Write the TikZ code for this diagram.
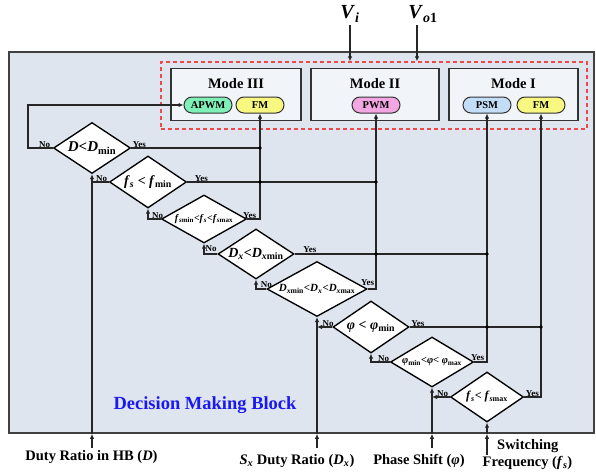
\documentclass[tikz,border=0pt]{standalone}
\usepackage{fontspec}
\setmainfont{Liberation Serif}
\usetikzlibrary{shapes.geometric,arrows.meta}
\definecolor{bgblue}{HTML}{DEE5EE}
\definecolor{modefill}{HTML}{F1F4F8}
\definecolor{apwmc}{HTML}{80F0B8}
\definecolor{fmc}{HTML}{F8F880}
\definecolor{pwmc}{HTML}{F2A6E2}
\definecolor{psmc}{HTML}{C4DDF6}
\definecolor{reddash}{HTML}{EE4848}
\definecolor{dmbblue}{HTML}{1A1AF0}
\newcommand{\sbx}[1]{\textsubscript{#1}}
\newcommand{\fsz}[1]{\fontsize{#1}{#1}\selectfont\bfseries}
\tikzset{
  conn/.style={line width=1.4pt, draw=black!85},
  arr/.style={conn, -{Latex[length=5pt,width=4.5pt]}},
  dia/.style={diamond, draw=black, fill=white, line width=1.35pt, inner sep=0pt},
  yn/.style={font=\fsz{9}, inner sep=0.5pt},
  modebox/.style={draw=black!80, fill=modefill, line width=1.3pt, minimum height=52pt},
  modelab/.style={font=\fsz{14.5}, inner sep=0pt},
  pill/.style={draw=black!80, line width=1pt, rounded corners=8pt, minimum width=48pt, minimum height=16pt, inner sep=0pt, font=\fsz{10.5}},
  inlab/.style={font=\fsz{14.5}, inner sep=0pt, align=center},
}
\begin{document}
\begin{tikzpicture}[x=1pt,y=-1pt]
\useasboundingbox (0,0) rectangle (596,474);
% main block
\node[draw=black!75, fill=bgblue, line width=1.6pt, minimum width=585pt, minimum height=381pt, inner sep=0pt] (block) at (301.5,242.5) {};
\node[draw=reddash, line width=1.3pt, dash pattern=on 4pt off 3pt, minimum width=426pt, minimum height=67pt, inner sep=0pt] (redbox) at (374,95.5) {};
% mode boxes
\node[modebox, minimum width=130pt] (m3) at (236,94.5) {};
\node[modebox, minimum width=128pt] (m2) at (375,94.5) {};
\node[modebox, minimum width=129pt] (m1) at (513.5,94.5) {};
\node[modelab] (m3t) at (236,84) {Mode III};
\node[modelab] (m2t) at (375,84) {Mode II};
\node[modelab] (m1t) at (513.5,84) {Mode I};
\node[pill, fill=apwmc] (apwm) at (208,105) {APWM};
\node[pill, fill=fmc] (fm3) at (260,105) {FM};
\node[pill, fill=pwmc] (pwm) at (376,105) {PWM};
\node[pill, fill=psmc] (psm) at (487,105) {PSM};
\node[pill, fill=fmc] (fm1) at (541,105) {FM};
% inputs on top
\node[inner sep=0pt] (vi) at (350,14) {\fsz{20}\textit{V}\sbx{\textit{i}}};
\node[inner sep=0pt] (vo) at (423,14) {\fsz{20}\textit{V}\sbx{\textit{o}1}};
\coordinate (vit) at (350,25);
\coordinate (vot) at (417,25);
\draw[arr] (vit) -- (vit |- redbox.north);
\draw[arr] (vot) -- (vot |- redbox.north);
% diamonds
\node[dia, minimum width=77pt, minimum height=51pt] (d1) at (92,148) {\makebox[0pt]{\fsz{15}\textit{D}<\textit{D}\sbx{min}}};
\node[dia, minimum width=77pt, minimum height=52pt] (d2) at (148,182) {\makebox[0pt]{\fsz{14}\textit{f}\sbx{\textit{s}} < \textit{f}\sbx{min}}};
\node[dia, minimum width=85pt, minimum height=48pt] (d3) at (204,219) {\makebox[0pt]{\fsz{10}\textit{f}\sbx{\textit{s}min}<\textit{f}\sbx{\textit{s}}<\textit{f}\sbx{\textit{s}max}}};
\node[dia, minimum width=76pt, minimum height=50pt] (d4) at (256,254) {\makebox[0pt]{\fsz{14}\textit{D}\sbx{\textit{x}}<\textit{D}\sbx{\textit{x}min}}};
\node[dia, minimum width=100pt, minimum height=55pt] (d5) at (317,289) {\makebox[0pt]{\fsz{11}\textit{D}\sbx{\textit{x}min}<\textit{D}\sbx{\textit{x}}<\textit{D}\sbx{\textit{x}max}}};
\node[dia, minimum width=76pt, minimum height=52pt] (d6) at (371,327) {\makebox[0pt]{\fsz{14}\textit{φ} < \textit{φ}\sbx{min}}};
\node[dia, minimum width=83pt, minimum height=50pt] (d7) at (432,362) {\makebox[0pt]{\fsz{10.5}\textit{φ}\sbx{min}<\textit{φ}< \textit{φ}\sbx{max}}};
\node[dia, minimum width=73pt, minimum height=50pt] (d8) at (487,397) {\makebox[0pt]{\fsz{12}\textit{f}\sbx{\textit{s}}< \textit{f}\sbx{\textit{s}max}}};
% Yes / No labels
\node[yn, anchor=south east, xshift=-2pt] (n1) at (d1.west) {No};
\node[yn, anchor=south west, xshift=1pt] (y1) at (d1.east) {Yes};
\node[yn, anchor=south east, xshift=-1pt] (n2) at (d2.west) {No};
\node[yn, anchor=south west, xshift=7pt] (y2) at (d2.east) {Yes};
\node[yn, anchor=south east, xshift=3pt] (n3) at (d3.west) {No};
\node[yn, anchor=south, xshift=2.5pt] (y3) at (d3.east) {Yes};
\node[yn, anchor=south east, yshift=2pt] (n4) at (d4.west) {No};
\node[yn, anchor=south west, xshift=8pt, yshift=1pt] (y4) at (d4.east) {Yes};
\node[yn, anchor=south, yshift=1pt] (n5) at (d5.west) {No};
\node[yn, anchor=south, yshift=3pt] (y5) at (d5.east) {Yes};
\node[yn, anchor=south east, xshift=2pt] (n6) at (d6.west) {No};
\node[yn, anchor=south west, xshift=1pt] (y6) at (d6.east) {Yes};
\node[yn, anchor=south east] (n7) at (d7.west) {No};
\node[yn, anchor=south, xshift=3.5pt, yshift=1pt] (y7) at (d7.east) {Yes};
\node[yn, anchor=south east, xshift=-1pt] (n8) at (d8.west) {No};
\node[yn, anchor=south west, xshift=1pt] (y8) at (d8.east) {Yes};
% block title
\node[font=\fsz{18.5}, text=dmbblue, inner sep=0pt] (title) at (205,405) {Decision Making Block};
% bottom labels
\node[inlab] (labD) at (91.5,457) {Duty Ratio in HB (\textit{D})};
\node[inlab] (labDx) at (297,461) {\textit{S}\sbx{\textit{x}} Duty Ratio (\textit{D}\sbx{\textit{x}})};
\node[inlab] (labPhi) at (419,461) {Phase Shift (\textit{φ})};
\node[inlab, anchor=west] (labFs1) at (497,446) {Switching};
\node[inlab] (labFs2) at (527.5,462.5) {Frequency (\textit{f}\sbx{\textit{s}})};
% input coordinates
\coordinate (inD) at (92,448);
\coordinate (inDx) at (317,448);
\coordinate (inPhi) at (432,448);
\coordinate (inFs) at (487,455);
% inputs
\draw[arr] (inD) -- (inD |- block.south);
\draw[arr] (inD |- block.south) -- (d1.south);
\draw[arr] (inDx) -- (inDx |- block.south);
\draw[arr] (inDx |- block.south) -- (d5.south);
\draw[arr] (inPhi) -- (inPhi |- block.south);
\draw[arr] (inPhi |- block.south) -- (d7.south);
\draw[arr] (inFs) -- (inFs |- block.south);
\draw[arr] (inFs |- block.south) -- (d8.south);
% No branches
\draw[arr] (d1.west) -- ++(-25,0) |- (apwm.west);
\draw[conn] (d2.west) -- (d2.west -| d1.south);
\draw[arr] (d3.west) -| (d2.south);
\draw[arr] (d4.west) -| (d3.south);
\draw[arr] (d5.west) -| (d4.south);
\draw[arr] (d6.west) -- (d6.west -| d5.south);
\draw[arr] (d7.west) -| (d6.south);
\draw[arr] (d8.west) -- (d8.west -| d7.south);
% Yes branches
\coordinate (j1) at (d1.east -| fm3.south);
\coordinate (j2a) at (d2.east -| fm3.south);
\coordinate (j2b) at (d2.east -| pwm.south);
\coordinate (j4a) at (d4.east -| pwm.south);
\coordinate (j4b) at (d4.east -| psm.south);
\coordinate (j6a) at (d6.east -| psm.south);
\coordinate (j6b) at (d6.east -| fm1.south);
\draw[conn] (d1.east) -- (j1);
\draw[conn] (d2.east) -- (j2b);
\draw[arr] (d3.east) -| (fm3.south);
\draw[conn] (d4.east) -- (j4b);
\draw[arr] (d5.east) -| (pwm.south);
\draw[conn] (d6.east) -- (j6b);
\draw[arr] (d7.east) -| (psm.south);
\draw[arr] (d8.east) -| (fm1.south);
\foreach \j in {j1,j2a,j2b,j4a,j4b,j6a,j6b} \fill (\j) circle (1.8pt);
\end{tikzpicture}
\end{document}
